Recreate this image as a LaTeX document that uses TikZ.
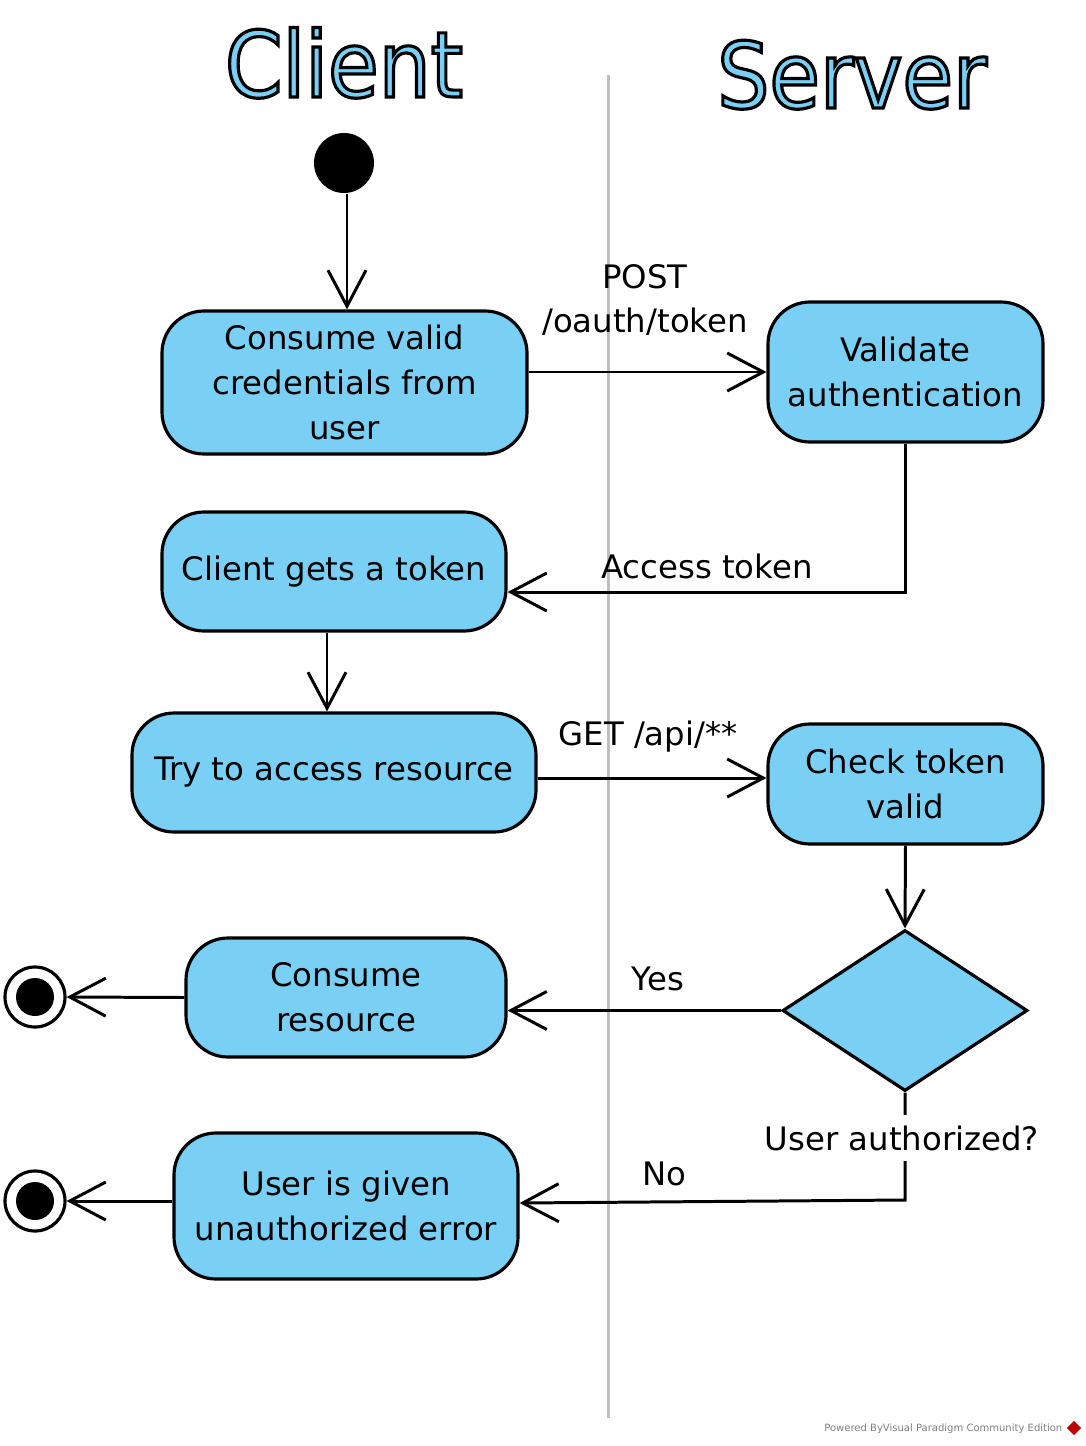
\documentclass[tikz,border=0pt]{standalone}
\usepackage{fontspec}
\setmainfont{DejaVu Sans}
\newfontfamily\titlefont{DejaVu Sans Condensed}
\usepackage{tikz}
\usetikzlibrary{arrows.meta,shapes.geometric,positioning}
\definecolor{actblue}{RGB}{122,207,245}
\definecolor{lanegray}{RGB}{190,190,190}
\tikzset{%
  font=\fontsize{9.2pt}{12.8pt}\selectfont,>={Straight Barb[length=3.6mm,width=3.8mm]},
  act/.style={draw,fill=actblue,line width=0.9pt,rounded corners=0.42cm,align=center,inner sep=2pt},
  flow/.style={draw,->,line width=0.85pt},
  lbl/.style={inner sep=1pt,align=center}
}
\newcommand{\outlined}[1]{\special{pdf:literal direct 2 Tr 0.9 w 0 G}#1\special{pdf:literal direct 0 Tr}}

\begin{document}
\begin{tikzpicture}[swim/.style={text=actblue,font=\titlefont\fontsize{26pt}{30pt}\selectfont,anchor=base,inner sep=0pt},%
	fin/.style={circle,draw,fill=white,line width=0.9pt,minimum size=0.6cm,inner sep=0pt}]
	\useasboundingbox (0,0) rectangle (10.86,-14.46);
	% swimlanes
	\node[swim] (client) at (3.44,-0.97) {\outlined{Client}};
	\node[swim] (server) at (8.52,-1.08) {\outlined{Server}};
	\draw[lanegray,line width=0.85pt] (6.08,-0.75) -- (6.08,-14.18);
	
	\node[circle,fill,minimum size=0.6cm,inner sep=0pt] (start) at (3.44,-1.63) {};
	\node[act,minimum width=3.65cm,minimum height=1.43cm] (cred) at (3.445,-3.825) {Consume valid\\credentials from\\user};
	\node[act,minimum width=2.75cm,minimum height=1.40cm] (valid) at (9.055,-3.72) {Validate\\authentication};
	\node[act,minimum width=3.44cm,minimum height=1.19cm] (gets) at (3.34,-5.715) {Client gets a token};
	\node[act,minimum width=4.04cm,minimum height=1.19cm] (try) at (3.34,-7.725) {Try to access resource};
	\node[act,minimum width=2.75cm,minimum height=1.20cm] (check) at (9.055,-7.84) {Check token\\valid};
	\node[diamond,draw,fill=actblue,line width=0.9pt,minimum width=2.45cm,minimum height=1.61cm,inner sep=0pt] (auth) at (9.05,-10.105) {};
	\node[act,minimum width=3.20cm,minimum height=1.19cm] (use) at (3.46,-9.975) {Consume\\resource};
	\node[act,minimum width=3.44cm,minimum height=1.46cm] (deny) at (3.46,-12.06) {User is given\\unauthorized error};
	\node[fin] (end1) at (0.35,-9.97) {};
	\node[fin] (end2) at (0.35,-12.01) {};
	\fill (end1.center) circle (0.19cm);
	\fill (end2.center) circle (0.19cm);
	
	\draw[flow] ([xshift=0.03cm]start.south) -- ([xshift=0.03cm]start.south |- cred.north);
	\draw[flow] (cred.east |- valid.west) -- (valid.west);
	\draw[flow] (valid.south) |- ([yshift=-0.205cm]gets.east);
	\draw[flow] ([xshift=-0.07cm]gets.south) -- ([xshift=-0.07cm]gets.south |- try.north);
	\draw[flow] ([yshift=-0.055cm]try.east) -- ([yshift=-0.055cm]try.east -| check.west);
	\draw[flow] (check.south) -- (auth.north);
	\draw[flow] (auth.west) -- (auth.west -| use.east);
	\draw[flow] (use.west) -- (end1.east);
	\draw[flow] (auth.south) -- ([yshift=0.06cm]auth.south |- deny.east) -- ([yshift=0.03cm]deny.east);
	\draw[flow] (end2.east -| deny.west) -- (end2.east);
	
	\node[lbl] (post) at (6.45,-3.0) {POST\\/oauth/token};
	\node[lbl] (token) at (7.07,-5.66) {Access token};
	\node[lbl] (get) at (6.48,-7.37) {GET /api/**};
	\node[lbl] (yes) at (6.58,-9.79) {Yes};
	\node[lbl,fill=white,inner sep=3pt] (question) at (9.02,-11.38) {User authorized?};
	\node[lbl] (no) at (6.64,-11.74) {No};
	
	% footer
	\node[text=gray,font=\fontsize{2.85pt}{3pt}\selectfont,anchor=east,inner sep=0pt] (vp) at (10.63,-14.29) {Powered ByVisual Paradigm Community Edition};
	\node[diamond,fill=red!75!black,minimum size=0.15cm,inner sep=0pt] (vplogo) at (10.74,-14.28) {};
\end{tikzpicture}
\end{document}
